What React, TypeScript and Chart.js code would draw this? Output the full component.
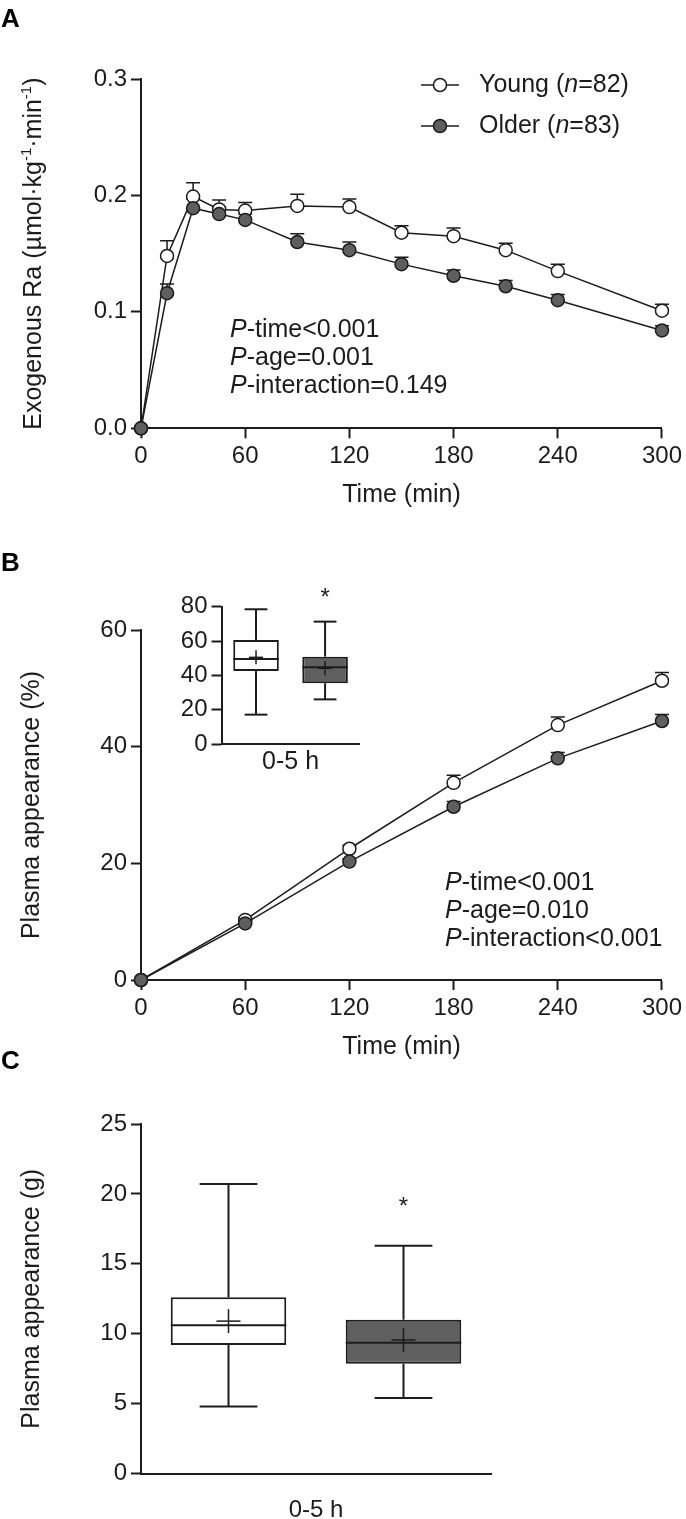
import React, { useEffect, useRef } from "react";
import { Chart, registerables } from "chart.js";

Chart.register(...registerables);

// ---------------- data ----------------
// Panel A: exogenous Ra (µmol·kg-1·min-1)
const timeA = [0, 15, 30, 45, 60, 90, 120, 150, 180, 210, 240, 300];
const youngRaMean = [0, 0.148, 0.199, 0.188, 0.187, 0.191, 0.19, 0.168, 0.165, 0.153, 0.135, 0.101];
const youngRaSem = [0, 0.013, 0.012, 0.008, 0.007, 0.01, 0.007, 0.006, 0.007, 0.006, 0.006, 0.0055];
const olderRaMean = [0, 0.116, 0.189, 0.184, 0.179, 0.16, 0.153, 0.141, 0.131, 0.122, 0.11, 0.084];
const olderRaSem = [0, 0.008, 0.008, 0.006, 0.005, 0.007, 0.007, 0.006, 0.005, 0.005, 0.005, 0.004];
const raTicks = [0, 0.1, 0.2, 0.3];
const timeTicks = [0, 60, 120, 180, 240, 300];
const pStatsA = ["time<0.001", "age=0.001", "interaction=0.149"];

// Panel B: cumulative plasma appearance (%)
const timeB = [0, 60, 120, 180, 240, 300];
const youngPctMean = [0, 10.3, 22.5, 33.8, 43.7, 51.3];
const youngPctSem = [0, 0.4, 0.6, 1.3, 1.4, 1.4];
const olderPctMean = [0, 9.7, 20.3, 29.7, 38.0, 44.4];
const olderPctSem = [0, 0.4, 0.5, 0.9, 1.0, 1.1];
const pctTicks = [0, 20, 40, 60];
const pStatsB = ["time<0.001", "age=0.010", "interaction<0.001"];

// groups
const groupNames = ["Young", "Older"];
const groupN = [82, 83];

// Panel B inset: 0-5 h plasma appearance (%)
const insetMin = [17.1, 26.0];
const insetQ1 = [42.5, 35.4];
const insetMedian = [49.5, 44.7];
const insetQ3 = [60.6, 50.9];
const insetMax = [78.5, 71.3];
const insetMean = [50.5, 44.1];
const insetTicks = [0, 20, 40, 60, 80];
const insetStar = 88;

// Panel C: 0-5 h plasma appearance (g)
const cMin = [4.8, 5.4];
const cQ1 = [9.2, 7.85];
const cMedian = [10.6, 9.35];
const cQ3 = [12.6, 11.0];
const cMax = [20.7, 16.3];
const cMean = [10.9, 9.55];
const gramTicks = [0, 5, 10, 15, 20, 25];
const cStar = 19.4;
const starGroup = 1;

// ---------------- styles ----------------
const FONT = '"Liberation Sans", Arial, Helvetica, sans-serif';
const INK = "#1c1c1c";
const GREY = "#5f5f5f";
const TICK_PX = 24;
const TITLE_PX = 25;

type Seg = [string, boolean];

function drawRich(ctx: CanvasRenderingContext2D, x: number, y: number, segs: Seg[], size: number) {
  let cx = x;
  ctx.textAlign = "left";
  ctx.textBaseline = "middle";
  for (const [t, it] of segs) {
    ctx.font = `${it ? "italic " : ""}${size}px ${FONT}`;
    ctx.fillText(t, cx, y);
    cx += ctx.measureText(t).width;
  }
}

function axisBase() {
  return {
    border: { display: true, color: INK, width: 2 },
    grid: {
      display: true,
      drawOnChartArea: false,
      drawTicks: true,
      tickLength: 10,
      tickColor: INK,
      tickWidth: 2,
      color: INK,
    },
    ticks: {
      font: { family: FONT, size: TICK_PX },
      color: INK,
      padding: 4,
      autoSkip: false,
      maxRotation: 0,
      minRotation: 0,
    },
  };
}

const setTicks = (vals: number[]) => (s: any) => {
  s.ticks = vals.map((v) => ({ value: v }));
};

function letterPlugin(letter: string, x: number, baseline: number) {
  return {
    id: "panelLetter" + letter,
    afterDraw(chart: any) {
      const ctx = chart.ctx;
      ctx.save();
      ctx.fillStyle = "#000";
      ctx.font = `bold 26px ${FONT}`;
      ctx.textAlign = "left";
      ctx.textBaseline = "alphabetic";
      ctx.fillText(letter, x, baseline);
      ctx.restore();
    },
  };
}

function errorBarPlugin(sems: number[][], capHalf: number) {
  return {
    id: "errorBars",
    beforeDatasetsDraw(chart: any) {
      const ctx = chart.ctx;
      const y = chart.scales.y;
      ctx.save();
      ctx.strokeStyle = INK;
      ctx.lineWidth = 1.5;
      chart.data.datasets.forEach((ds: any, di: number) => {
        const meta = chart.getDatasetMeta(di);
        meta.data.forEach((pt: any, i: number) => {
          const s = sems[di][i];
          if (!s) return;
          const top = y.getPixelForValue(ds.data[i].y + s);
          ctx.beginPath();
          ctx.moveTo(pt.x, pt.y);
          ctx.lineTo(pt.x, top);
          ctx.moveTo(pt.x - capHalf, top);
          ctx.lineTo(pt.x + capHalf, top);
          ctx.stroke();
        });
      });
      ctx.restore();
    },
  };
}

function pTextPlugin(lines: string[], x: number, y0: number, step: number) {
  return {
    id: "pText",
    afterDraw(chart: any) {
      const ctx = chart.ctx;
      ctx.save();
      ctx.fillStyle = INK;
      lines.forEach((l, i) => {
        drawRich(ctx, x, y0 + i * step, [["P", true], ["-" + l, false]], TITLE_PX);
      });
      ctx.restore();
    },
  };
}

const legendPlugin = {
  id: "lineLegend",
  afterDraw(chart: any) {
    const ctx = chart.ctx;
    const rows = [
      { y: 85, fill: "#fff", i: 0 },
      { y: 126, fill: GREY, i: 1 },
    ];
    ctx.save();
    rows.forEach((r) => {
      ctx.strokeStyle = INK;
      ctx.lineWidth = 1.5;
      ctx.beginPath();
      ctx.moveTo(421, r.y);
      ctx.lineTo(459, r.y);
      ctx.stroke();
      ctx.beginPath();
      ctx.arc(440, r.y, 6.5, 0, Math.PI * 2);
      ctx.fillStyle = r.fill;
      ctx.fill();
      ctx.stroke();
      ctx.fillStyle = INK;
      drawRich(
        ctx,
        479,
        r.y,
        [
          [groupNames[r.i] + " (", false],
          ["n", true],
          ["=" + groupN[r.i] + ")", false],
        ],
        TITLE_PX
      );
    });
    ctx.restore();
  },
};

const yTitleAPlugin = {
  id: "yTitleA",
  afterDraw(chart: any) {
    const ctx = chart.ctx;
    const ca = chart.chartArea;
    const cy = (ca.top + ca.bottom) / 2;
    const segs: Seg[] = [
      ["Exogenous Ra (µmol·kg", false],
      ["-1", true],
      ["·min", false],
      ["-1", true],
      [")", false],
    ];
    const fontFor = (sup: boolean) => `${sup ? 15 : TITLE_PX}px ${FONT}`;
    ctx.save();
    let total = 0;
    segs.forEach(([t, sup]) => {
      ctx.font = fontFor(sup);
      total += ctx.measureText(t).width;
    });
    ctx.translate(40.5, cy);
    ctx.rotate(-Math.PI / 2);
    ctx.fillStyle = INK;
    ctx.textAlign = "left";
    ctx.textBaseline = "alphabetic";
    let x = -total / 2;
    segs.forEach(([t, sup]) => {
      ctx.font = fontFor(sup);
      ctx.fillText(t, x, sup ? -10 : 0);
      x += ctx.measureText(t).width;
    });
    ctx.restore();
  },
};

function boxPlugin(
  st: { min: number[]; max: number[]; median: number[]; mean: number[] },
  plusHalf: number,
  starValue: number
) {
  return {
    id: "boxWhiskers",
    afterDatasetsDraw(chart: any) {
      const ctx = chart.ctx;
      const y = chart.scales.y;
      const meta = chart.getDatasetMeta(0);
      ctx.save();
      ctx.strokeStyle = INK;
      const seg = (x1: number, y1: number, x2: number, y2: number) => {
        ctx.beginPath();
        ctx.moveTo(x1, y1);
        ctx.lineTo(x2, y2);
        ctx.stroke();
      };
      meta.data.forEach((bar: any, i: number) => {
        const [q1, q3] = chart.data.datasets[0].data[i];
        const x = bar.x;
        const half = bar.width / 2;
        const cap = bar.width / 4;
        const pMin = y.getPixelForValue(st.min[i]);
        const pMax = y.getPixelForValue(st.max[i]);
        const pQ1 = y.getPixelForValue(q1);
        const pQ3 = y.getPixelForValue(q3);
        const pMed = y.getPixelForValue(st.median[i]);
        const pMean = y.getPixelForValue(st.mean[i]);
        ctx.lineWidth = 2;
        seg(x, pQ3, x, pMax);
        seg(x - cap, pMax, x + cap, pMax);
        seg(x, pQ1, x, pMin);
        seg(x - cap, pMin, x + cap, pMin);
        seg(x - half, pMed, x + half, pMed);
        ctx.lineWidth = 1.5;
        seg(x - plusHalf, pMean, x + plusHalf, pMean);
        seg(x, pMean - plusHalf, x, pMean + plusHalf);
      });
      const sb = meta.data[starGroup];
      ctx.fillStyle = INK;
      ctx.font = `24px ${FONT}`;
      ctx.textAlign = "center";
      ctx.textBaseline = "middle";
      ctx.fillText("*", sb.x, y.getPixelForValue(starValue) + 5.5);
      ctx.restore();
    },
  };
}

function lineDataset(label: string, xs: number[], ys: number[], fill: string, order: number) {
  return {
    label,
    data: xs.map((t, i) => ({ x: t, y: ys[i] })),
    showLine: true,
    borderColor: INK,
    borderWidth: 1.5,
    tension: 0,
    pointRadius: 6.5,
    pointBorderWidth: 1.5,
    pointBackgroundColor: fill,
    pointBorderColor: INK,
    pointHoverRadius: 6.5,
    clip: false as any,
    order,
  };
}

function makeA(): any {
  const ax = axisBase();
  const ay = axisBase();
  return {
    type: "scatter",
    data: {
      datasets: [
        lineDataset("Older", timeA, olderRaMean, GREY, 0),
        lineDataset("Young", timeA, youngRaMean, "#fff", 1),
      ],
    },
    options: {
      responsive: false,
      animation: false,
      events: [],
      layout: { padding: { left: 0, top: 79, right: 21.5, bottom: 0 } },
      plugins: { legend: { display: false }, tooltip: { enabled: false } },
      scales: {
        x: {
          ...ax,
          type: "linear",
          min: 0,
          max: 300,
          afterBuildTicks: setTicks(timeTicks),
          afterFit: (s: any) => {
            s.height = 101.7;
          },
          title: {
            display: true,
            text: "Time (min)",
            color: INK,
            font: { family: FONT, size: TITLE_PX },
            padding: { top: 0, bottom: 20 },
          },
        },
        y: {
          ...ay,
          type: "linear",
          min: 0,
          max: 0.3,
          afterBuildTicks: setTicks(raTicks),
          afterFit: (s: any) => {
            s.width = 141;
          },
          ticks: { ...ay.ticks, callback: (v: any) => Number(v).toFixed(1) },
          title: { display: false },
        },
      },
    },
    plugins: [
      errorBarPlugin([olderRaSem, youngRaSem], 7),
      legendPlugin,
      pTextPlugin(pStatsA, 230, 330, 28),
      yTitleAPlugin,
      letterPlugin("A", 1, 27),
    ],
  };
}

function makeB(): any {
  const ax = axisBase();
  const ay = axisBase();
  return {
    type: "scatter",
    data: {
      datasets: [
        lineDataset("Older", timeB, olderPctMean, GREY, 0),
        lineDataset("Young", timeB, youngPctMean, "#fff", 1),
      ],
    },
    options: {
      responsive: false,
      animation: false,
      events: [],
      layout: { padding: { left: 0, top: 100, right: 21.5, bottom: 0 } },
      plugins: { legend: { display: false }, tooltip: { enabled: false } },
      scales: {
        x: {
          ...ax,
          type: "linear",
          min: 0,
          max: 300,
          afterBuildTicks: setTicks(timeTicks),
          afterFit: (s: any) => {
            s.height = 95;
          },
          title: {
            display: true,
            text: "Time (min)",
            color: INK,
            font: { family: FONT, size: TITLE_PX },
            padding: { top: 0, bottom: 13 },
          },
        },
        y: {
          ...ay,
          type: "linear",
          min: 0,
          max: 60,
          afterBuildTicks: setTicks(pctTicks),
          afterFit: (s: any) => {
            s.width = 141;
          },
          title: {
            display: true,
            text: "Plasma appearance (%)",
            color: INK,
            font: { family: FONT, size: TITLE_PX },
            padding: { top: 17, bottom: 0 },
          },
        },
      },
    },
    plugins: [
      errorBarPlugin([olderPctSem, youngPctSem], 7),
      pTextPlugin(pStatsB, 445, 353.4, 28),
      letterPlugin("B", 1, 41),
    ],
  };
}

function boxConfig(
  q1: number[],
  q3: number[],
  stats: { min: number[]; max: number[]; median: number[]; mean: number[] },
  ticks: number[],
  yMax: number,
  yWidth: number,
  xHeight: number,
  padding: any,
  yTitle: string | null,
  xTitleSize: number,
  xTitleBottom: number,
  plusHalf: number,
  starValue: number,
  extraPlugins: any[]
): any {
  const ay = axisBase();
  return {
    type: "bar",
    data: {
      labels: groupNames,
      datasets: [
        {
          data: groupNames.map((_, i) => [q1[i], q3[i]]),
          backgroundColor: ["#fff", GREY],
          borderColor: INK,
          borderWidth: 2,
          borderSkipped: false,
          barPercentage: 0.66,
          categoryPercentage: 1,
        },
      ],
    },
    options: {
      responsive: false,
      animation: false,
      events: [],
      layout: { padding },
      plugins: { legend: { display: false }, tooltip: { enabled: false } },
      scales: {
        x: {
          type: "category",
          offset: true,
          border: { display: true, color: INK, width: 2 },
          grid: { display: false },
          ticks: { display: false },
          afterFit: (s: any) => {
            s.height = xHeight;
          },
          title: {
            display: true,
            text: "0-5 h",
            color: INK,
            font: { family: FONT, size: xTitleSize },
            padding: { top: 0, bottom: xTitleBottom },
          },
        },
        y: {
          ...ay,
          type: "linear",
          min: 0,
          max: yMax,
          afterBuildTicks: setTicks(ticks),
          afterFit: (s: any) => {
            s.width = yWidth;
          },
          title: yTitle
            ? {
                display: true,
                text: yTitle,
                color: INK,
                font: { family: FONT, size: TITLE_PX },
                padding: { top: 17, bottom: 0 },
              }
            : { display: false },
        },
      },
    },
    plugins: [boxPlugin(stats, plusHalf, starValue), ...extraPlugins],
  };
}

function makeInset(): any {
  return boxConfig(
    insetQ1,
    insetQ3,
    { min: insetMin, max: insetMax, median: insetMedian, mean: insetMean },
    insetTicks,
    80,
    71.5,
    46,
    { left: 0, top: 36.7, right: 20.4, bottom: 0 },
    null,
    TITLE_PX,
    13.3,
    7,
    insetStar,
    []
  );
}

function makeC(): any {
  return boxConfig(
    cQ1,
    cQ3,
    { min: cMin, max: cMax, median: cMedian, mean: cMean },
    gramTicks,
    25,
    141,
    66.5,
    { left: 0, top: 94, right: 195, bottom: 0 },
    "Plasma appearance (g)",
    24,
    15,
    12,
    cStar,
    [letterPlugin("C", 1, 39)]
  );
}

function ChartCanvas(props: { left: number; top: number; w: number; h: number; make: () => any }) {
  const ref = useRef<HTMLCanvasElement>(null);
  useEffect(() => {
    const chart = new Chart(ref.current as HTMLCanvasElement, props.make());
    return () => chart.destroy();
  }, []);
  return (
    <canvas
      ref={ref}
      width={props.w}
      height={props.h}
      style={{
        position: "absolute",
        left: props.left,
        top: props.top,
        width: props.w,
        height: props.h,
        display: "block",
      }}
    />
  );
}

export default function App() {
  return (
    <div
      style={{
        position: "absolute",
        left: 0,
        top: 0,
        width: 686,
        height: 1519,
        overflow: "hidden",
        background: "#fff",
      }}
    >
      <ChartCanvas left={0} top={0} w={686} h={530} make={makeA} />
      <ChartCanvas left={0} top={530} w={686} h={545} make={makeB} />
      <ChartCanvas left={150} top={570} w={230} h={220} make={makeInset} />
      <ChartCanvas left={0} top={1030} w={686} h={510} make={makeC} />
    </div>
  );
}
